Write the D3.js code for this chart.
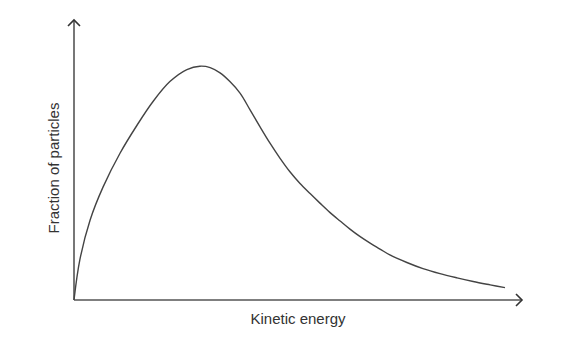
<!DOCTYPE html>
<html>
<head>
    <script src="https://d3js.org/d3.v7.min.js"></script>
</head>

<style>
body {
    margin: 0;
    background: #ffffff;
}
</style>

<body>
<div id="chart"></div>

<script>
    // Curve: energy (0-100) vs fraction (0-100), arbitrary units
    var energy   = [0, 1.3, 3.6, 6.5, 10.3, 14.1, 17.6, 21.4, 25.2, 28.1, 30.4, 32.6, 34.8, 37.1,
                    39.3, 41.5, 43.75, 46.0, 48.2, 50.4, 52.7, 54.9, 57.1, 59.4, 61.6, 63.8, 66.1,
                    68.3, 70.5, 74.3, 77.9, 81.7, 85.5, 89.1, 92.9, 96.2];
    var fraction = [0, 14.3, 28.6, 40.4, 52.5, 62.5, 70.8, 78.0, 82.3, 83.5, 83.0, 81.1, 78.0, 73.8,
                    67.9, 61.9, 56.0, 50.6, 45.8, 41.7, 38.0, 34.6, 31.3, 28.2, 25.3, 22.7, 20.3,
                    18.2, 16.1, 13.4, 11.2, 9.4, 7.9, 6.6, 5.4, 4.4];
    var xLabel = "Kinetic energy";
    var yLabel = "Fraction of particles";

    var width = 566, height = 350;
    var origin = {x: 74, y: 300};

    var svg = d3.select("#chart")
        .append("svg")
        .attr("width", width)
        .attr("height", height);

    // Scales: the axes run from the origin to the arrow tips
    var x = d3.scaleLinear().domain([0, 100]).range([origin.x, 522]);
    var y = d3.scaleLinear().domain([0, 100]).range([origin.y, 20]);

    var axisColor = "#555555";

    // Axis lines
    svg.append("line")
        .attr("x1", x(0)).attr("y1", y(0))
        .attr("x2", x(100)).attr("y2", y(0))
        .style("stroke", axisColor)
        .style("stroke-width", 1.6);
    svg.append("line")
        .attr("x1", x(0)).attr("y1", y(0))
        .attr("x2", x(0)).attr("y2", y(100))
        .style("stroke", axisColor)
        .style("stroke-width", 1.6);

    // Open chevron arrow heads
    svg.append("path")
        .attr("d", "M" + (x(100) - 6) + "," + (y(0) - 6) + "L" + x(100) + "," + y(0) + "L" + (x(100) - 6) + "," + (y(0) + 6))
        .style("fill", "none")
        .style("stroke", "#333333")
        .style("stroke-width", 1.6);
    svg.append("path")
        .attr("d", "M" + (x(0) - 6) + "," + (y(100) + 6) + "L" + x(0) + "," + y(100) + "L" + (x(0) + 6) + "," + (y(100) + 6))
        .style("fill", "none")
        .style("stroke", "#333333")
        .style("stroke-width", 1.6);

    // The distribution curve
    var line = d3.line()
        .x(function(d, i) { return x(energy[i]); })
        .y(function(d, i) { return y(fraction[i]); })
        .curve(d3.curveCatmullRom.alpha(0.5));

    svg.append("path")
        .datum(energy)
        .attr("d", line)
        .style("fill", "none")
        .style("stroke", "#444444")
        .style("stroke-width", 1.4);

    // Axis titles
    svg.append("text")
        .attr("x", 298)
        .attr("y", 323.5)
        .attr("text-anchor", "middle")
        .attr("font-family", "Liberation Sans, Arial, sans-serif")
        .attr("font-size", "15px")
        .attr("fill", "#333333")
        .text(xLabel);

    svg.append("text")
        .attr("transform", "translate(58.5,168) rotate(-90)")
        .attr("text-anchor", "middle")
        .attr("font-family", "Liberation Sans, Arial, sans-serif")
        .attr("font-size", "15px")
        .attr("fill", "#333333")
        .text(yLabel);
</script>
</body>
</html>
